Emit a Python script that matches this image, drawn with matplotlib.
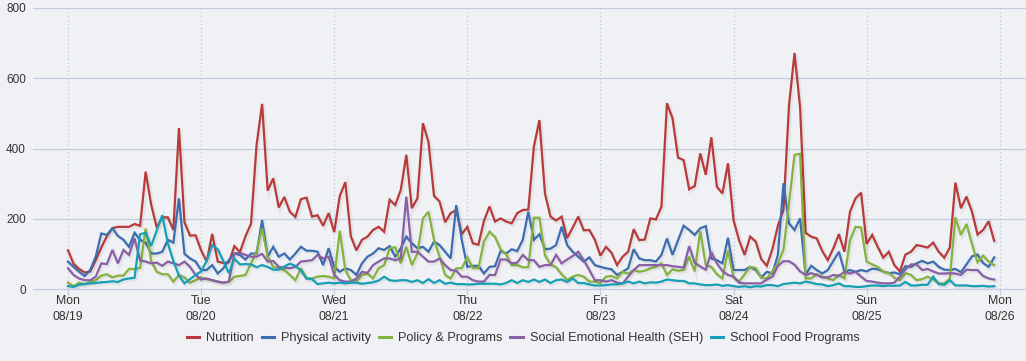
import matplotlib
matplotlib.use("Agg")
import matplotlib.pyplot as plt
import matplotlib.patheffects as pe
import numpy as np

day_labels = ["Mon\n08/19", "Tue\n08/20", "Wed\n08/21", "Thu\n08/22", "Fri\n08/23", "Sat\n08/24", "Sun\n08/25", "Mon\n08/26"]
series_names = ["Nutrition", "Physical activity", "Policy & Programs", "Social Emotional Health (SEH)", "School Food Programs"]

nutrition = [
    110, 72, 57, 47, 50, 82, 118, 150, 173, 177, 177, 177, 185, 180, 334, 240, 175, 204, 204, 168, 458, 190, 152, 153,
    110, 78, 157, 78, 74, 76, 122, 105, 150, 186, 410, 527, 280, 315, 232, 262, 220, 205, 256, 260, 206, 210, 180, 216,
    162, 265, 304, 150, 110, 140, 149, 168, 177, 163, 254, 239, 282, 382, 230, 258, 472, 418, 265, 249, 190, 216, 225, 156,
    177, 130, 126, 194, 235, 192, 201, 192, 187, 216, 225, 226, 405, 481, 272, 206, 195, 206, 145, 175, 206, 167, 168, 140,
    95, 120, 103, 68, 92, 106, 170, 139, 141, 201, 198, 234, 529, 486, 374, 367, 284, 293, 386, 325, 432, 291, 272, 358,
    196, 139, 97, 149, 135, 85, 66, 113, 180, 225, 522, 672, 518, 160, 149, 144, 108, 82, 116, 156, 106, 220, 258, 274,
    128, 154, 120, 89, 106, 68, 50, 98, 106, 125, 122, 118, 132, 106, 89, 118, 303, 230, 263, 220, 155, 168, 193, 137,
]
physical = [
    78, 63, 49, 37, 54, 92, 158, 154, 173, 151, 140, 120, 160, 140, 132, 101, 101, 106, 140, 132, 258, 100, 87, 78,
    54, 54, 68, 44, 59, 82, 101, 97, 84, 101, 101, 196, 92, 120, 92, 101, 84, 101, 120, 109, 109, 106, 68, 116,
    63, 49, 59, 54, 40, 73, 92, 101, 116, 111, 122, 92, 116, 149, 130, 116, 120, 106, 135, 125, 106, 87, 239, 140,
    63, 66, 66, 44, 63, 65, 108, 101, 113, 108, 140, 220, 140, 156, 113, 115, 125, 177, 125, 106, 92, 78, 90, 68,
    63, 59, 56, 40, 49, 59, 113, 87, 82, 82, 78, 97, 144, 97, 139, 180, 168, 154, 173, 179, 87, 82, 73, 146,
    54, 54, 54, 63, 54, 33, 49, 44, 97, 301, 187, 168, 201, 40, 66, 54, 44, 54, 80, 106, 50, 54, 49, 54,
    50, 58, 56, 50, 45, 47, 42, 65, 63, 73, 80, 73, 78, 63, 55, 54, 57, 48, 70, 93, 98, 74, 63, 90,
]
policy = [
    18, 8, 18, 14, 20, 25, 38, 42, 33, 38, 38, 57, 57, 60, 172, 80, 49, 42, 42, 21, 40, 33, 18, 25,
    33, 28, 25, 21, 18, 20, 35, 37, 40, 73, 106, 173, 92, 63, 59, 54, 40, 25, 59, 30, 30, 35, 37, 35,
    30, 166, 54, 25, 21, 40, 44, 30, 59, 68, 116, 119, 73, 120, 68, 101, 201, 220, 140, 92, 40, 30, 59, 59,
    90, 60, 59, 135, 163, 148, 113, 99, 68, 68, 62, 62, 203, 203, 96, 70, 62, 42, 26, 35, 40, 35, 21, 21,
    17, 35, 37, 30, 49, 44, 54, 49, 52, 59, 63, 73, 40, 56, 52, 54, 92, 50, 165, 68, 63, 42, 30, 110,
    33, 21, 42, 63, 60, 32, 30, 50, 73, 111, 244, 382, 385, 30, 30, 42, 35, 30, 25, 40, 30, 139, 177, 175,
    78, 70, 63, 49, 46, 32, 25, 45, 40, 25, 28, 35, 28, 16, 16, 30, 204, 154, 185, 128, 76, 95, 78, 68,
]
seh = [
    59, 40, 30, 25, 25, 35, 73, 71, 111, 73, 111, 97, 144, 82, 78, 73, 75, 66, 78, 73, 68, 78, 63, 40,
    27, 30, 25, 21, 18, 21, 101, 103, 97, 92, 92, 100, 78, 80, 63, 61, 59, 63, 78, 80, 82, 97, 87, 92,
    40, 25, 21, 21, 30, 49, 46, 68, 78, 87, 87, 82, 87, 263, 106, 106, 92, 78, 78, 87, 68, 54, 52, 35,
    35, 25, 21, 21, 40, 40, 84, 84, 73, 75, 97, 82, 82, 63, 68, 68, 97, 73, 84, 94, 106, 82, 54, 25,
    25, 21, 25, 18, 16, 35, 54, 68, 68, 68, 68, 68, 68, 65, 63, 61, 122, 75, 64, 55, 105, 73, 51, 40,
    35, 18, 16, 16, 16, 16, 27, 35, 66, 79, 79, 69, 50, 40, 45, 40, 33, 33, 40, 37, 49, 44, 49, 35,
    23, 21, 18, 16, 16, 18, 35, 56, 70, 70, 54, 57, 50, 44, 44, 45, 44, 40, 55, 54, 54, 37, 30, 27,
]
school_food = [
    8, 6, 12, 14, 16, 17, 19, 20, 22, 20, 27, 30, 32, 156, 160, 122, 167, 210, 130, 80, 38, 16, 28, 40,
    50, 80, 125, 113, 80, 45, 86, 70, 71, 70, 62, 68, 63, 55, 55, 64, 72, 66, 52, 30, 28, 14, 16, 18,
    16, 18, 16, 18, 18, 15, 17, 19, 24, 35, 25, 23, 25, 25, 20, 25, 17, 28, 17, 25, 15, 18, 14, 14,
    13, 13, 15, 15, 15, 15, 13, 17, 25, 17, 25, 20, 27, 20, 27, 17, 25, 27, 20, 30, 17, 17, 13, 10,
    10, 11, 13, 13, 16, 21, 16, 21, 16, 19, 18, 21, 27, 25, 23, 23, 16, 16, 13, 11, 11, 13, 9, 11,
    8, 6, 8, 5, 8, 7, 11, 11, 8, 14, 16, 18, 16, 21, 18, 14, 13, 8, 11, 16, 8, 8, 6, 6,
    8, 10, 10, 8, 10, 9, 10, 20, 10, 10, 12, 12, 35, 14, 12, 25, 10, 10, 10, 8, 8, 9, 7, 8,
]
y_ticks = [0, 200, 400, 600, 800]

colors = ["#b83a3a", "#3b6db0", "#86b23f", "#8a5fa6", "#15a0b6"]
bg = "#eff1f4"
grid_c = "#c3cde0"

plt.rcParams['font.family'] = ['Liberation Sans', 'DejaVu Sans']

fig = plt.figure(figsize=(10.26, 3.61), dpi=100, facecolor=bg)
ax = fig.add_axes([33/1026, (361-289)/361, 1 - 33/1026, (289-8)/361])
ax.set_facecolor(bg)

hours = np.arange(len(nutrition))
all_series = [nutrition, physical, policy, seh, school_food]
for name, vals, c in zip(series_names, all_series, colors):
    ax.plot(hours, vals, color=c, lw=1.6, label=name, solid_joinstyle='miter',
            path_effects=[pe.SimpleLineShadow(offset=(1, -1), shadow_color='black', alpha=0.05, linewidth=3),
                          pe.Normal()], zorder=3)

day_pos = np.arange(len(day_labels)) * 24
ax.set_xlim((33 - 68) / 5.546, (1026 - 68) / 5.546)
ax.set_ylim(0, 800)
ax.set_yticks(y_ticks)
ax.set_yticklabels([str(v) for v in y_ticks], fontsize=8.5, color="#333333")
ax.set_xticks(day_pos)
ax.set_xticklabels(day_labels, fontsize=8.8, color="#333333", linespacing=1.4)

for y in y_ticks[1:]:
    ax.axhline(y, color=grid_c, lw=0.9, zorder=1)
for d in day_pos:
    ax.axvline(d, color="#b8c2da", lw=0.8, ls=(0, (1, 2.5)), zorder=1)

for s in ["left", "right", "top"]:
    ax.spines[s].set_visible(False)
ax.spines["bottom"].set_color(grid_c)
ax.spines["bottom"].set_linewidth(0.9)
ax.tick_params(axis="y", length=0, pad=5)
ax.tick_params(axis="x", length=4, color=grid_c, pad=0.5)

leg = fig.legend(loc="center", bbox_to_anchor=(523.5/1026, 1 - 338/361), ncol=5, frameon=False,
                 fontsize=9.15, handlelength=0.95, handletextpad=0.55, columnspacing=0.63)
for t in leg.get_texts():
    t.set_color("#333333")
for h in leg.legend_handles:
    h.set_linewidth(2.2)
    h.set_path_effects([])

fig.savefig("out.png", dpi=100, facecolor=bg)
